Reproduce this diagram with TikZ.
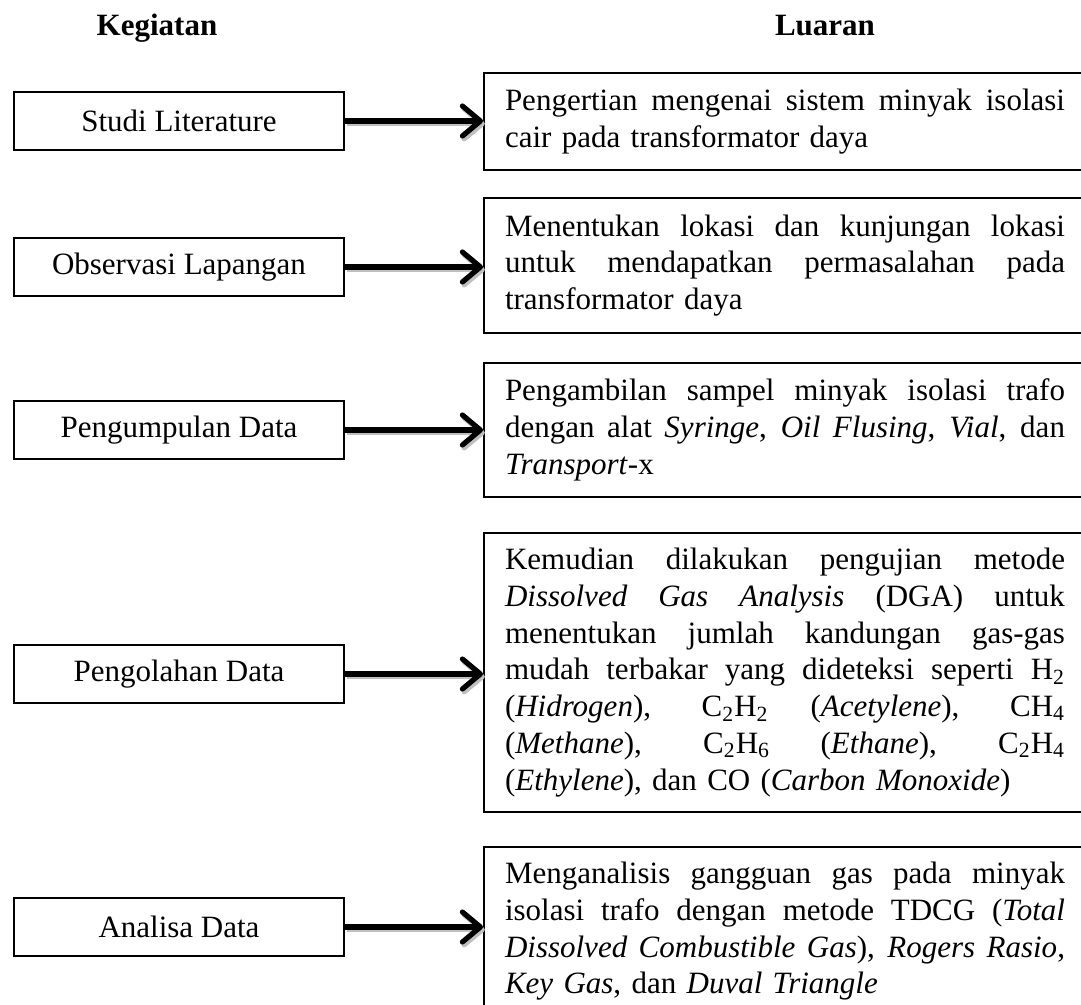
\documentclass[tikz,border=0pt]{standalone}
\usepackage{fontspec}
\setmainfont{Liberation Serif}
\usetikzlibrary{arrows.meta}
\newcommand\jline[1]{\leavevmode\hbox to 280pt{\spaceskip=0.25em plus 1fil\relax\xspaceskip=\spaceskip #1}}
\begin{document}
\begin{tikzpicture}[x=0.5pt,y=-0.5pt,
  txt/.style={font=\fontsize{15.5}{18.35}\selectfont},
  kbox/.style={txt, draw, line width=1pt, minimum width=165pt, minimum height=29pt, inner sep=0pt},
  lbox/.style={txt, draw, line width=1pt, text width=280pt, inner xsep=10.5pt, inner ysep=0pt, align=left},
  head/.style={font=\fontsize{15.5}{18.35}\selectfont\bfseries, anchor=base},
  arr/.style={line width=2.6pt, -{Straight Barb[length=9pt,width=15pt,round]}},
  arrsh/.style={arr, draw=black!25, transform canvas={shift={(0.9pt,-1.4pt)}}}
]
\useasboundingbox (0,0) rectangle (1081,1005);

\node[head] (hk) at (157,36) {Kegiatan};
\node[head] (hl) at (825,36) {Luaran};

\node[kbox] (k1) at (179,121) {Studi Literature};
\node[kbox] (k2) at (179,267) {Observasi Lapangan};
\node[kbox] (k3) at (179,430) {Pengumpulan Data};
\node[kbox] (k4) at (179,674) {Pengolahan Data};
\node[kbox] (k5) at (179,927) {Analisa Data};

\node[lbox, minimum height=48.5pt] (l1) at (785,121.5) {\jline{Pengertian mengenai sistem minyak isolasi}\\cair pada transformator daya};
\node[lbox, minimum height=67.5pt] (l2) at (785,265.5) {\jline{Menentukan lokasi dan kunjungan lokasi}\\\jline{untuk mendapatkan permasalahan pada}\\transformator daya};
\node[lbox, minimum height=67pt] (l3) at (785,430) {\jline{Pengambilan sampel minyak isolasi trafo}\\\jline{dengan alat \textit{Syringe}, \textit{Oil Flusing}, \textit{Vial}, dan}\\\textit{Transport}-x};
\node[lbox, minimum height=139.5pt] (l4) at (785,672.5) {\jline{Kemudian dilakukan pengujian metode}\\\jline{\textit{Dissolved Gas Analysis} (DGA) untuk}\\\jline{menentukan jumlah kandungan gas-gas}\\\jline{mudah terbakar yang dideteksi seperti H\textsubscript{2}}\\\jline{(\textit{Hidrogen}), C\textsubscript{2}H\textsubscript{2} (\textit{Acetylene}), CH\textsubscript{4}}\\\jline{(\textit{Methane}), C\textsubscript{2}H\textsubscript{6} (\textit{Ethane}), C\textsubscript{2}H\textsubscript{4}}\\(\textit{Ethylene}), dan CO (\textit{Carbon Monoxide})};
\node[lbox, minimum height=84.5pt] (l5) at (785,931.5) {\jline{Menganalisis gangguan gas pada minyak}\\\jline{isolasi trafo dengan metode TDCG (\textit{Total}}\\\jline{\textit{Dissolved Combustible Gas}), \textit{Rogers Rasio},}\\\textit{Key Gas}, dan \textit{Duval Triangle}};

\foreach \i in {1,...,5}{
  \draw[arrsh] (k\i.east) -- (k\i.east -| l\i.west);
  \draw[arr] (k\i.east) -- (k\i.east -| l\i.west);
}
\end{tikzpicture}
\end{document}
